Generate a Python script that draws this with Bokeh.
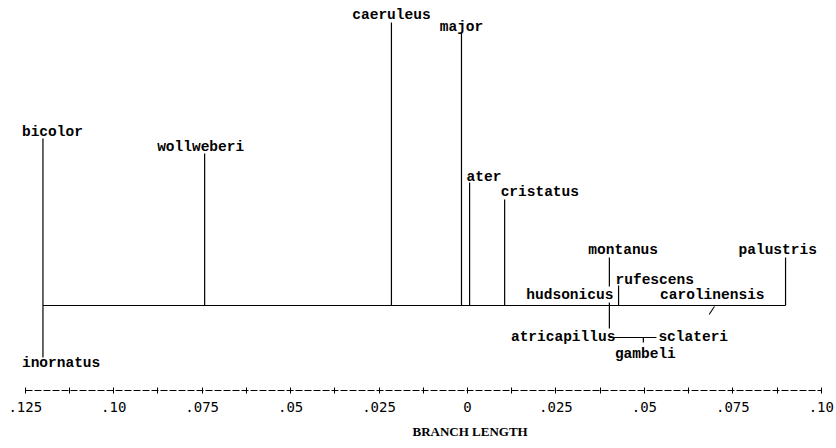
from bokeh.plotting import figure
from bokeh.models import Range1d, LinearAxis, FixedTicker, CustomJSTickFormatter, Title
from bokeh.core.properties import value
from bokeh.embed import file_html
from bokeh.resources import INLINE

# ---------------- data ----------------
tick_values = [-0.125, -0.10, -0.075, -0.05, -0.025, 0.0, 0.025, 0.05, 0.075, 0.10]
tick_labels = [".125", ".10", ".075", ".05", ".025", "0", ".025", ".05", ".075", ".10"]
minor_tick_values = [-0.1125, -0.0875, -0.0625, -0.0375, -0.0125,
                     0.0125, 0.0375, 0.0625, 0.0875]
axis_title = "BRANCH LENGTH"

root_pos = -0.120

taxa = ["bicolor", "inornatus", "wollweberi", "caeruleus", "major", "ater",
        "cristatus", "montanus", "hudsonicus", "rufescens", "carolinensis",
        "palustris", "atricapillus", "gambeli", "sclateri"]
# branch position along the branch-length axis
branch_pos = [-0.120, -0.120, -0.0743, -0.0215, -0.0017, 0.0006,
              0.0105, 0.0401, 0.0401, 0.0427, 0.0692,
              0.0899, 0.0401, 0.0497, 0.0534]
# display height of each tip (vertical drawing level)
tip_height = [167, -52, 152, 283, 272, 123,
              106, 48, 0, 20, 0,
              48, -32, -37, -32]
# index of the taxon each branch hangs from (-1 = main line)
parent = [-1, -1, -1, -1, -1, -1, -1, -1, -1, -1, -1, -1, -1, 12, 12]

# ---------------- label layout (style) ----------------
label_style = {
    "bicolor": ("left", -21, -7),
    "inornatus": ("left", -21, 5),
    "wollweberi": ("center", -4, -7),
    "caeruleus": ("center", 0, -8),
    "major": ("center", 0, -7),
    "ater": ("left", -3, -6),
    "cristatus": ("left", -4, -8),
    "montanus": ("left", -21, -8),
    "hudsonicus": ("right", 4, -11),
    "rufescens": ("left", -3, -6),
    "carolinensis": ("center", 0, -11),
    "palustris": ("left", -47, -8),
    "atricapillus": ("right", 6, -1),
    "gambeli": ("center", 2, 11),
    "sclateri": ("left", 2, -1),
}
masked = {"hudsonicus", "atricapillus"}

# ---------------- figure ----------------
p = figure(frame_width=836, frame_height=390,
           x_range=Range1d(-0.13200, 0.10430), y_range=Range1d(-85, 305),
           output_backend="svg", toolbar_location=None,
           x_axis_location=None, y_axis_location=None,
           min_border_left=0, min_border_right=0, min_border_top=0,
           min_border_bottom=58)
p.grid.visible = False
p.outline_line_color = None
p.background_fill_color = "white"
p.border_fill_color = "white"

lw = 1.2

# vertical parts of the branches
vx, vy0, vy1 = [], [], []
for i, t in enumerate(taxa):
    ay = 0 if parent[i] < 0 else tip_height[parent[i]]
    vx.append(branch_pos[i]); vy0.append(ay); vy1.append(tip_height[i])
p.segment(x0=vx, y0=vy0, x1=vx, y1=vy1, line_color="black", line_width=lw)

# carolinensis break mark
ci = taxa.index("carolinensis")
p.segment(x0=[branch_pos[ci] - 0.0009], y0=[tip_height[ci] - 9],
          x1=[branch_pos[ci] + 0.0006], y1=[tip_height[ci] - 1],
          line_color="black", line_width=1.1)

# labels
for t_i, t in enumerate(taxa):
    align, dx, dy = label_style[t]
    kw = {}
    if t in masked:
        kw = dict(background_fill_color="white")
    p.text(x=[branch_pos[t_i]], y=[tip_height[t_i]], text=[t],
           text_font=value("Liberation Mono"), text_font_style="bold",
           text_font_size="14.5px", text_color="black",
           text_align=align, text_baseline="alphabetic",
           x_offset=dx, y_offset=dy, **kw)

# horizontal parts: one line per parent group (drawn over the label masks)
hx0, hx1, hy = [], [], []
for g in sorted(set(parent)):
    kids = [i for i in range(len(taxa)) if parent[i] == g]
    if g < 0:
        start, level = root_pos, 0
    else:
        start, level = branch_pos[g], tip_height[g]
    hx0.append(start); hx1.append(max(branch_pos[k] for k in kids)); hy.append(level)
p.segment(x0=hx0, y0=hy, x1=hx1, y1=hy, line_color="black", line_width=lw)

# axis
axis = LinearAxis(ticker=FixedTicker(ticks=tick_values, minor_ticks=minor_tick_values))
axis.bounds = (min(tick_values), max(tick_values))
axis.formatter = CustomJSTickFormatter(
    args=dict(tv=tick_values, tl=tick_labels),
    code="""
    for (let i = 0; i < tv.length; i++) {
        if (Math.abs(tv[i] - tick) < 1e-9) return tl[i];
    }
    return '';
    """)
axis.axis_line_color = "black"
axis.axis_line_width = 1
axis.axis_line_dash = "7 2"
axis.major_tick_in = 3
axis.major_tick_out = 3
axis.minor_tick_in = 3
axis.minor_tick_out = 3
axis.major_tick_line_color = "black"
axis.minor_tick_line_color = "black"
axis.major_label_text_font = "DejaVu Sans Mono"
axis.major_label_text_font_size = "14px"
axis.major_label_text_color = "black"
axis.major_label_standoff = 8
p.add_layout(axis, "below")

# axis title, placed under the zero mark
p.add_layout(Title(text=axis_title, align="left", offset=412,
                   vertical_align="bottom", standoff=15,
                   text_font="Liberation Serif", text_font_style="bold",
                   text_font_size="13px", text_color="black"), "below")

open("out.html", "w").write(file_html(p, INLINE))
